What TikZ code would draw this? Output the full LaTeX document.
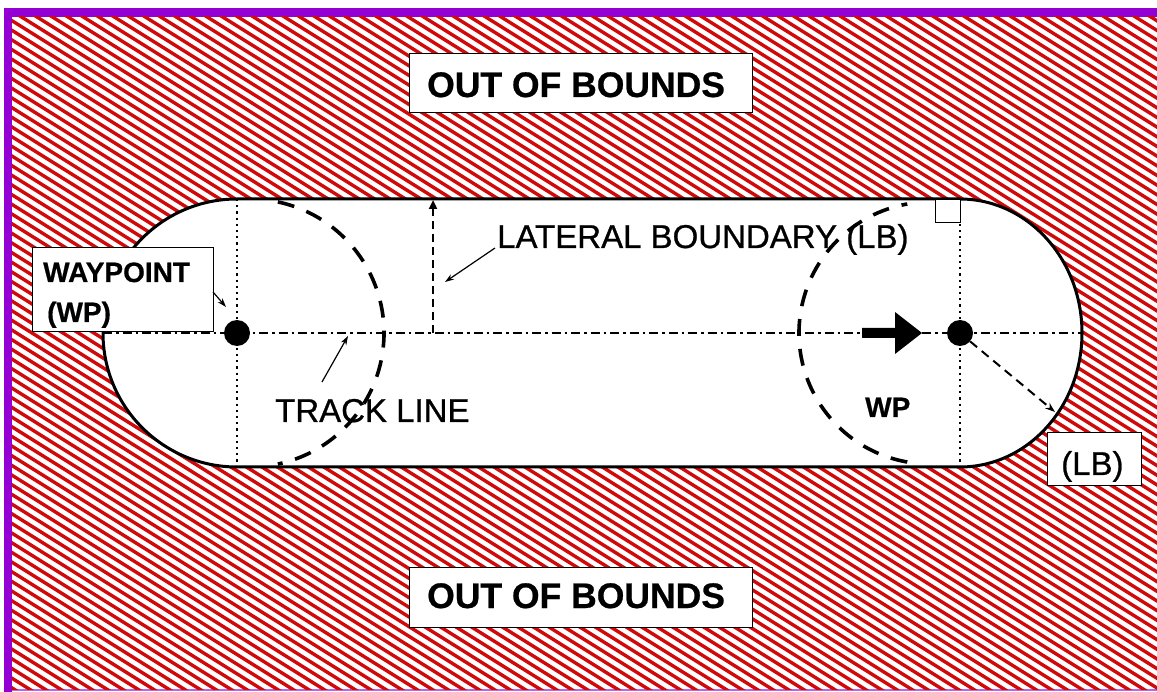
\documentclass[tikz,border=0pt]{standalone}
\usepackage{fontspec}
\setmainfont{Liberation Sans}
\newfontfamily\labelfont[FakeBold=0.8]{Liberation Sans}
\newfontfamily\heavyfont[FakeBold=0.6]{Liberation Sans Bold}
\usetikzlibrary{arrows.meta}
\definecolor{framepurple}{RGB}{148,0,211}
\definecolor{hatchred}{RGB}{208,10,10}

\begin{document}
\begin{tikzpicture}[x=1pt,y=-1pt,
  outline/.style={line width=3pt, draw=black, fill=white, line join=round},
  hatchline/.style={draw=hatchred, line width=3.4pt},
  guide/.style={line width=2pt, dash pattern=on 2.2pt off 4pt},
  trackline/.style={line width=1.6pt, dash pattern=on 9pt off 4pt on 2.5pt off 4pt},
  rangering/.style={line width=3.6pt, dash pattern=on 17pt off 13pt},
  labelbox/.style={draw=black, line width=1pt, fill=white, inner sep=0pt},
  wpdot/.style={circle, fill=black, inner sep=0pt, minimum size=26pt},
  leader/.style={line width=1.2pt, -{Stealth[length=9pt,width=6pt]}},
  lbarrow/.style={line width=2.5pt, dash pattern=on 8pt off 5pt, -{Triangle[length=9pt,width=8pt]}},
  radiusarrow/.style={line width=2pt, dash pattern=on 9pt off 6pt, -{Stealth[length=10pt,width=7pt]}},
  boundsfont/.style={font=\heavyfont\fontsize{35.5}{40}\selectfont, inner sep=0pt, anchor=base west},
  wpfont/.style={font=\heavyfont\fontsize{28}{34}\selectfont, inner sep=0pt, anchor=base west},
  notefont/.style={font=\labelfont\fontsize{33}{38}\selectfont, inner sep=0pt, anchor=base west},
]
\useasboundingbox (0,0) rectangle (1157,692);
\fill[white] (0,0) rectangle (1157,692);

% frame
\fill[framepurple] (4,8) rectangle (1157,17);
\fill[framepurple] (4,8) rectangle (12,692);
\draw[framepurple!60, line width=1.5pt] (12,690) -- (1157,690);

% out-of-bounds hatching
\begin{scope}
  \clip (12,17) rectangle (1157,689);
  \foreach \c in {-612,-603.8,...,595} {
    \draw[hatchline] ({-0.530*\c-1272},{0.848*\c-795}) -- ({-0.530*\c+1272},{0.848*\c+795});
  }
\end{scope}

% track area (stadium)
\path[outline] (237,199) -- (960,199)
  arc[start angle=-90, end angle=90, x radius=122, y radius=134]
  -- (237,467)
  arc[start angle=90, end angle=270, radius=134] -- cycle;

% turn circles
\coordinate (cL) at (250,333);
\coordinate (cR) at (930,333);
\draw[rangering] (cL) ++(-78:134) arc[start angle=-78, end angle=78, radius=134];
\draw[rangering] (cR) ++(100:131) arc[start angle=100, end angle=260, radius=131];

% guide lines
\draw[guide] (237,199) -- (237,467);
\draw[guide] (960,199) -- (960,467);
\draw[trackline] (103,333) -- (1082,333);

% right-angle mark
\draw[line width=1pt, fill=white] (935,200) rectangle (960,223);

% waypoints
\node[wpdot] (wpL) at (237,333) {};
\node[wpdot] (wpR) at (960,333) {};

% lateral boundary indicators
\coordinate (lbbase) at (433,333);
\coordinate (lbtop) at (433,200);
\draw[lbarrow] (lbbase) -- (lbtop);
\coordinate (lbedge) at (1055,412);
\draw[radiusarrow] (wpR) -- (lbedge);

% direction of travel
\fill (862,328) -- (895,328) -- (895,312) -- (922,333) -- (895,354) -- (895,338) -- (862,338) -- cycle;

% labels
\node[labelbox, minimum width=343pt, minimum height=59pt] (topbox) at (580.5,83.5) {};
\node[boundsfont] (toptext) at (427,97) {OUT OF BOUNDS};
\node[labelbox, minimum width=343pt, minimum height=60pt] (botbox) at (580.5,597) {};
\node[boundsfont] (bottext) at (427,608) {OUT OF BOUNDS};

\node[labelbox, minimum width=181pt, minimum height=84pt] (wpbox) at (122.5,290) {};
\node[wpfont] (wptext) at (43,282) {WAYPOINT};
\node[wpfont] (wpabbr) at (47,322) {(WP)};
\node[wpfont] (wpright) at (865,417) {WP};

\node[labelbox, minimum width=94pt, minimum height=52pt] (lbbox) at (1094,459) {};
\node[notefont] (lbtext) at (1061,475) {(LB)};

\node[notefont] (lateral) at (497,248) {LATERAL BOUNDARY (LB)};
\node[notefont] (track) at (275,422) {TRACK LINE};

% leaders
\coordinate (latfoot) at (445,282);
\draw[leader] ([xshift=-2pt]lateral.base west) -- (latfoot);
\coordinate (trackfoot) at (322,382);
\coordinate (tracktip) at (348,336);
\draw[leader] (trackfoot) -- (tracktip);
\coordinate (wpfoot) at (213,292);
\coordinate (wptip) at (226,307);
\draw[leader] (wpfoot) -- (wptip);
\end{tikzpicture}
\end{document}
